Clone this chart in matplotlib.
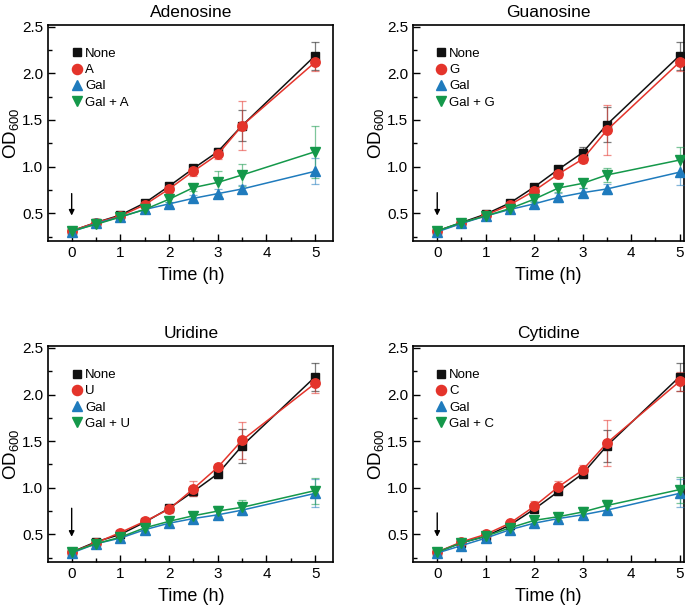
import matplotlib
matplotlib.use('Agg')
import matplotlib.pyplot as plt
from matplotlib.lines import Line2D

plt.rcParams['font.family'] = ['Liberation Sans', 'DejaVu Sans']
plt.rcParams['mathtext.fontset'] = 'custom'
plt.rcParams['mathtext.rm'] = 'Liberation Sans'

time = [0, 0.5, 1, 1.5, 2, 2.5, 3, 3.5, 5]

titles = ['Adenosine', 'Guanosine', 'Uridine', 'Cytidine']
letters = ['A', 'G', 'U', 'C']

# mean OD600 for each panel: None, nucleoside, Gal, Gal + nucleoside
none_vals = [
    [0.31, 0.40, 0.48, 0.61, 0.79, 0.98, 1.16, 1.44, 2.19],
    [0.31, 0.40, 0.49, 0.61, 0.78, 0.97, 1.15, 1.45, 2.19],
    [0.31, 0.42, 0.50, 0.63, 0.78, 0.96, 1.15, 1.45, 2.19],
    [0.31, 0.41, 0.48, 0.60, 0.77, 0.96, 1.15, 1.45, 2.19],
]
nuc_vals = [
    [0.31, 0.40, 0.47, 0.59, 0.76, 0.95, 1.13, 1.44, 2.12],
    [0.31, 0.39, 0.48, 0.59, 0.74, 0.92, 1.08, 1.39, 2.12],
    [0.31, 0.41, 0.52, 0.64, 0.77, 0.99, 1.22, 1.51, 2.12],
    [0.31, 0.42, 0.50, 0.62, 0.80, 1.01, 1.19, 1.48, 2.14],
]
gal_vals = [
    [0.30, 0.39, 0.46, 0.54, 0.60, 0.66, 0.71, 0.76, 0.95],
    [0.30, 0.39, 0.47, 0.54, 0.60, 0.67, 0.72, 0.76, 0.94],
    [0.30, 0.40, 0.46, 0.55, 0.62, 0.67, 0.71, 0.76, 0.94],
    [0.30, 0.38, 0.46, 0.55, 0.62, 0.67, 0.71, 0.76, 0.94],
]
galnuc_vals = [
    [0.31, 0.38, 0.46, 0.54, 0.65, 0.775, 0.83, 0.91, 1.16],
    [0.31, 0.40, 0.47, 0.55, 0.65, 0.77, 0.82, 0.91, 1.07],
    [0.31, 0.40, 0.47, 0.57, 0.64, 0.70, 0.75, 0.79, 0.97],
    [0.31, 0.41, 0.48, 0.57, 0.65, 0.69, 0.74, 0.81, 0.98],
]

# standard deviations
none_err = [
    [0.01, 0.02, 0.02, 0.02, 0.03, 0.04, 0.04, 0.17, 0.15],
    [0.01, 0.02, 0.02, 0.02, 0.03, 0.04, 0.06, 0.19, 0.15],
    [0.01, 0.02, 0.02, 0.02, 0.04, 0.05, 0.04, 0.18, 0.15],
    [0.01, 0.02, 0.02, 0.02, 0.03, 0.04, 0.05, 0.17, 0.15],
]
nuc_err = [
    [0.01, 0.02, 0.02, 0.03, 0.04, 0.05, 0.05, 0.26, 0.09],
    [0.01, 0.02, 0.02, 0.02, 0.03, 0.04, 0.04, 0.27, 0.09],
    [0.01, 0.02, 0.02, 0.02, 0.04, 0.08, 0.04, 0.20, 0.10],
    [0.01, 0.02, 0.03, 0.02, 0.06, 0.06, 0.05, 0.25, 0.10],
]
gal_err = [
    [0.01, 0.02, 0.02, 0.02, 0.02, 0.03, 0.05, 0.04, 0.14],
    [0.01, 0.02, 0.02, 0.02, 0.03, 0.05, 0.05, 0.05, 0.14],
    [0.01, 0.02, 0.02, 0.02, 0.04, 0.04, 0.05, 0.04, 0.15],
    [0.01, 0.03, 0.03, 0.02, 0.04, 0.04, 0.04, 0.04, 0.15],
]
galnuc_err = [
    [0.01, 0.02, 0.02, 0.02, 0.03, 0.04, 0.12, 0.12, 0.28],
    [0.01, 0.02, 0.02, 0.02, 0.03, 0.04, 0.05, 0.08, 0.14],
    [0.01, 0.02, 0.02, 0.03, 0.03, 0.03, 0.05, 0.08, 0.14],
    [0.01, 0.02, 0.02, 0.02, 0.04, 0.04, 0.05, 0.06, 0.14],
]

arrow_top = [0.74, 0.75, 0.81, 0.76]

colors = ['#111111', '#e4342b', '#1f7bbd', '#14984a']
markers = ['s', 'o', '^', 'v']
msizes = [5.5, 6.8, 7, 7]

positions = [
    [0.069, 0.602, 0.407, 0.357],
    [0.590, 0.602, 0.387, 0.357],
    [0.069, 0.072, 0.407, 0.357],
    [0.590, 0.072, 0.387, 0.357],
]
xlims = [(-0.48, 5.37), (-0.5, 5.09), (-0.48, 5.37), (-0.5, 5.09)]

fig = plt.figure(figsize=(7, 6.06), dpi=100)

for i in range(4):
    ax = fig.add_axes(positions[i])
    series = [none_vals[i], nuc_vals[i], gal_vals[i], galnuc_vals[i]]
    errs = [none_err[i], nuc_err[i], gal_err[i], galnuc_err[i]]
    labels = ['None', letters[i], 'Gal', 'Gal + ' + letters[i]]
    for k in range(4):
        eb = ax.errorbar(time, series[k], yerr=errs[k], fmt='none', ecolor=colors[k],
                         elinewidth=0.9, capsize=3, capthick=0.9, zorder=2 + k)
        for art in eb.lines[1] + eb.lines[2]:
            art.set_alpha(0.55)
        ax.plot(time, series[k], color=colors[k], marker=markers[k], markersize=msizes[k],
                linewidth=1.1, zorder=6 + k)

    handles = [Line2D([], [], color=colors[k], marker=markers[k], markersize=msizes[k] + 0.5,
                      linestyle='none') for k in range(4)]
    ax.legend(handles, labels, loc='upper left', bbox_to_anchor=(0.06, 0.918),
              frameon=False, fontsize=9.5, handletextpad=0.1, handlelength=1.0,
              labelspacing=0.3, borderaxespad=0)

    ax.annotate('', xy=(0, 0.445), xytext=(0, arrow_top[i]),
                arrowprops=dict(arrowstyle='-|>', color='black', lw=1, mutation_scale=8))

    ax.set_xlim(*xlims[i])
    ax.set_ylim(0.2, 2.52)
    ax.set_xticks([0, 1, 2, 3, 4, 5])
    ax.set_xticks([0.5, 1.5, 2.5, 3.5, 4.5], minor=True)
    ax.set_yticks([0.5, 1.0, 1.5, 2.0, 2.5])
    ax.set_yticks([0.25, 0.75, 1.25, 1.75, 2.25], minor=True)
    ax.tick_params(direction='in', labelsize=11, length=5, width=1, top=False, right=False)
    ax.tick_params(which='minor', direction='in', length=3, width=1)
    for sp in ax.spines.values():
        sp.set_linewidth(1.2)
    ax.set_title(titles[i], fontsize=12.5, pad=6)
    ax.set_xlabel('Time (h)', fontsize=13, labelpad=5)
    ax.set_ylabel('OD$_{600}$', fontsize=13.5, labelpad=0)

plt.savefig('out.png', dpi=100)
plt.close()
